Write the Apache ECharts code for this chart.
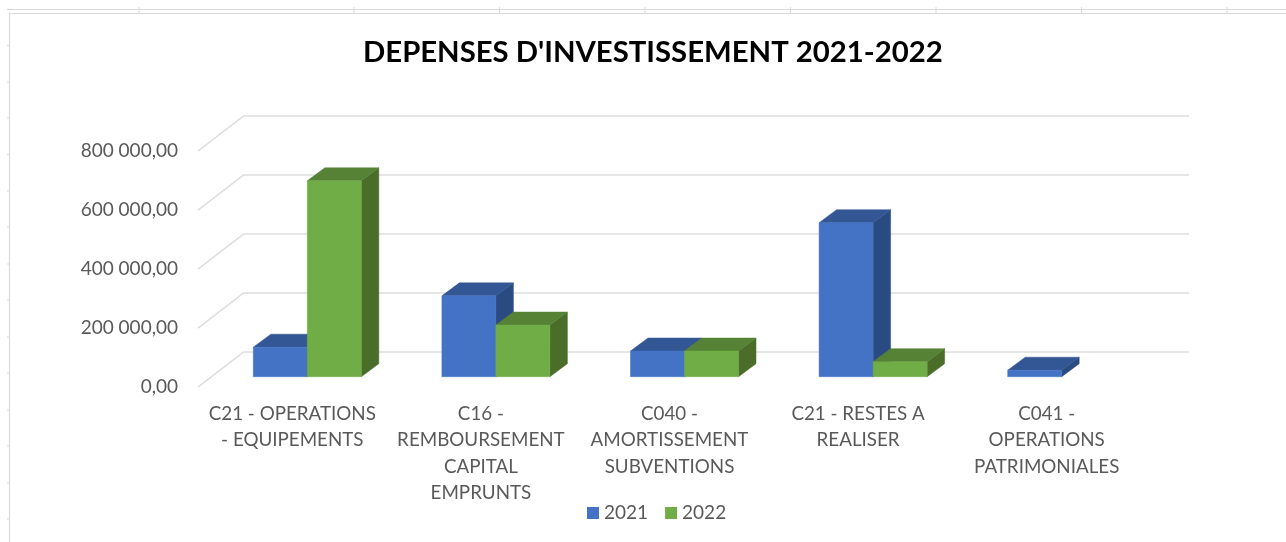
<!DOCTYPE html>
<html>
<head>
<meta charset="utf-8">
<style>html,body{margin:0;padding:0;background:#fff}#c{width:1286px;height:542px;filter:blur(0.55px)}</style>
<script src="https://cdn.jsdelivr.net/npm/echarts@6/dist/echarts.min.js"></script>
</head>
<body>
<div id="c"></div>
<script>
const titleText = "DEPENSES D'INVESTISSEMENT 2021-2022";
const categories = [
  "C21 - OPERATIONS\n- EQUIPEMENTS",
  "C16 -\nREMBOURSEMENT\nCAPITAL\nEMPRUNTS",
  "C040 -\nAMORTISSEMENT\nSUBVENTIONS",
  "C21 - RESTES A\nREALISER",
  "C041 -\nOPERATIONS\nPATRIMONIALES"
];
const values2021 = [100000, 274000, 87000, 522000, 22000];
const values2022 = [664000, 175000, 87000, 51000, null];
const tickValues = [0, 200000, 400000, 600000, 800000];
const tickLabels = ["0,00", "200 000,00", "400 000,00", "600 000,00", "800 000,00"];
const topTicksX = [139, 354, 499.5, 645, 790.5, 936, 1081.5, 1227];
const leftTicksY = [45.5, 82, 118, 154.5, 191, 227, 264, 300, 337, 373, 410, 446, 483, 519];

const colors2021 = {front: '#4472C4', side: '#2A4A82', top: '#335694'};
const colors2022 = {front: '#70AD47', side: '#4A6E2A', top: '#568236'};
const FONT = 'Lato';
const GRID_COLOR = '#DEDEDE';

// oblique projection: how far depth moves a point on screen
const wallDX = 46, wallDY = -35.5;     // floor front edge to back wall
const planeDX = 15, planeDY = -10.5;   // floor front edge to bar front plane
const barDX = 17.5, barDY = -13;       // bar depth
const barRatio = 54 / 188.6;

function barRenderer(slot, pal) {
  return function (params, api) {
    const base = api.coord([api.value(0), 0]);
    const head = api.coord([api.value(0), api.value(1)]);
    const w = api.size([1, 0])[0] * barRatio;
    const xl = base[0] + planeDX + (slot === 0 ? -w : 0);
    const xr = xl + w;
    const yb = base[1] + planeDY;
    const yt = head[1] + planeDY;
    const poly = (pts, fill) => ({type: 'polygon', shape: {points: pts}, style: {fill: fill, stroke: fill, lineWidth: 0.5}});
    return {type: 'group', children: [
      poly([[xr, yb], [xr + barDX, yb + barDY], [xr + barDX, yt + barDY], [xr, yt]], pal.side),
      poly([[xl, yt], [xr, yt], [xr + barDX, yt + barDY], [xl + barDX, yt + barDY]], pal.top),
      poly([[xl, yb], [xr, yb], [xr, yt], [xl, yt]], pal.front)
    ]};
  };
}
function wallDiagonal(params, api) {
  const p = api.coord([0, api.value(0)]);
  const x0 = params.coordSys.x;
  return {type: 'line', shape: {x1: x0, y1: p[1], x2: x0 + wallDX, y2: p[1] + wallDY},
    style: {stroke: GRID_COLOR, lineWidth: 1.5}};
}
const toPairs = arr => arr.map((v, i) => [i, v]).filter(d => d[1] !== null);

const frame = [
  {type: 'line', shape: {x1: 7, y1: 9.5, x2: 1286, y2: 9.5}, style: {stroke: '#D9D9D9', lineWidth: 1.2}},
  {type: 'line', shape: {x1: 9, y1: 13.5, x2: 1286, y2: 13.5}, style: {stroke: '#D9D9D9', lineWidth: 1.2}},
  {type: 'line', shape: {x1: 9.5, y1: 13, x2: 9.5, y2: 542}, style: {stroke: '#D9D9D9', lineWidth: 1.2}}
].concat(topTicksX.map(x => ({type: 'line', shape: {x1: x, y1: 7, x2: x, y2: 13}, style: {stroke: '#D9D9D9', lineWidth: 1}})))
 .concat(leftTicksY.map(y => ({type: 'line', shape: {x1: 7, y1: y, x2: 9, y2: y}, style: {stroke: '#D9D9D9', lineWidth: 1}})));

const chart = echarts.init(document.getElementById('c'), null, {renderer: 'canvas'});
chart.setOption({
  animation: false,
  backgroundColor: '#fff',
  title: {text: titleText, left: 358, top: 33,
    textStyle: {fontFamily: FONT, fontWeight: 'bold', fontSize: 29.3, color: '#000'}},
  legend: {left: 587, top: 503.5, padding: 0, itemWidth: 12, itemHeight: 12, itemGap: 17, icon: 'rect',
    data: ['2021', '2022'],
    textStyle: {fontFamily: FONT, fontSize: 19, color: '#595959'}},
  graphic: frame,
  grid: [
    {left: 198, top: 151.2, width: 943, height: 236, containLabel: false},
    {left: 244, top: 115.7, width: 945, height: 236, containLabel: false}
  ],
  xAxis: [
    {type: 'category', gridIndex: 0, data: categories,
      axisLine: {show: false}, axisTick: {show: false},
      axisLabel: {interval: 0, margin: 13.5, lineHeight: 26.4, color: '#595959', fontFamily: FONT, fontSize: 18.8, align: 'center'}},
    {type: 'category', gridIndex: 1, data: categories, show: false}
  ],
  yAxis: [
    {type: 'value', gridIndex: 0, min: 0, max: 800000, interval: 200000,
      axisLine: {show: false}, axisTick: {show: false}, splitLine: {show: false},
      axisLabel: {margin: 20, color: '#595959', fontFamily: FONT, fontSize: 19, padding: [0, 0, 2, 0],
        formatter: v => tickLabels[tickValues.indexOf(v)]}},
    {type: 'value', gridIndex: 1, min: 0, max: 800000, interval: 200000,
      axisLine: {show: false}, axisTick: {show: false}, axisLabel: {show: false},
      splitLine: {show: true, lineStyle: {color: GRID_COLOR, width: 1.5}}}
  ],
  series: [
    {type: 'custom', name: 'wall', xAxisIndex: 0, yAxisIndex: 0, z: 1, silent: true,
      data: tickValues.map(v => [v]), encode: {y: 0}, renderItem: wallDiagonal},
    {type: 'custom', name: '2021', xAxisIndex: 0, yAxisIndex: 0, z: 3, itemStyle: {color: colors2021.front},
      data: toPairs(values2021), encode: {x: 0, y: 1}, renderItem: barRenderer(0, colors2021)},
    {type: 'custom', name: '2022', xAxisIndex: 0, yAxisIndex: 0, z: 3, itemStyle: {color: colors2022.front},
      data: toPairs(values2022), encode: {x: 0, y: 1}, renderItem: barRenderer(1, colors2022)}
  ]
});
</script>
</body>
</html>
